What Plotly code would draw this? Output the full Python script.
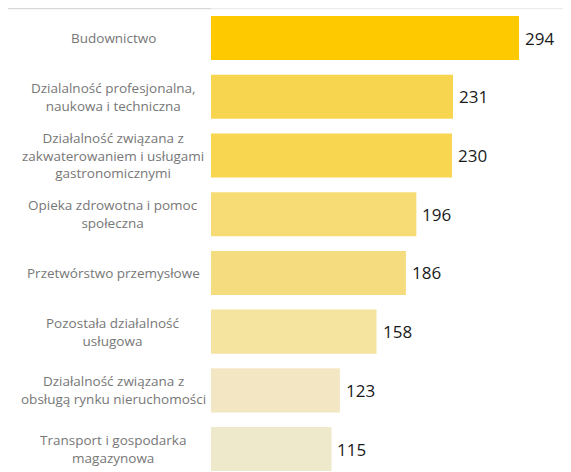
import plotly.graph_objects as go

categories = [
    "Budownictwo",
    "Dzialalność profesjonalna,<br>naukowa i techniczna",
    "Działalność związana z<br>zakwaterowaniem i usługami<br>gastronomicznymi",
    "Opieka zdrowotna i pomoc<br>społeczna",
    "Przetwórstwo przemysłowe",
    "Pozostała działalność<br>usługowa",
    "Działalność związana z<br>obsługą rynku nieruchomości",
    "Transport i gospodarka<br>magazynowa",
]
values = [294, 231, 230, 196, 186, 158, 123, 115]
colors = ["#FFC900", "#F8D54E", "#F8D64F", "#F7DC76", "#F5DC7F",
          "#F5E3A0", "#F3E7C3", "#EFE9CB"]

ids = list(range(len(categories)))

fig = go.Figure()
fig.add_trace(go.Bar(
    x=values, y=ids, orientation="h",
    marker=dict(color=colors, line=dict(width=0)),
    width=0.75, hoverinfo="skip",
))

annotations = []
for i, (c, v) in enumerate(zip(categories, values)):
    annotations.append(dict(
        x=-0.272, xref="paper", y=i, yref="y", text=c, showarrow=False,
        xanchor="center", yanchor="middle", align="center",
        font=dict(family="Open Sans", size=13.5, color="#777777"),
    ))
    annotations.append(dict(
        x=v, xref="x", y=i, yref="y", text=str(v), showarrow=False,
        xanchor="left", yanchor="middle", xshift=4,
        font=dict(family="Open Sans", size=17, color="#1a1a1a"),
    ))

fig.update_layout(
    width=563, height=464,
    margin=dict(l=203, r=0, t=0, b=0),
    paper_bgcolor="white", plot_bgcolor="white",
    showlegend=False,
    xaxis=dict(range=[0, 343.6], visible=False, fixedrange=True),
    yaxis=dict(range=[7.39, -0.511], visible=False, fixedrange=True),
    annotations=annotations,
    shapes=[
        dict(type="line", xref="paper", yref="paper", x0=-0.6, x1=0,
             y0=0.999, y1=0.999, line=dict(color="#d9d9d9", width=1.5)),
        dict(type="line", xref="paper", yref="paper", x0=0, x1=1,
             y0=0.999, y1=0.999, line=dict(color="#ececec", width=1.5)),
    ],
)

fig.write_html("out.html")
